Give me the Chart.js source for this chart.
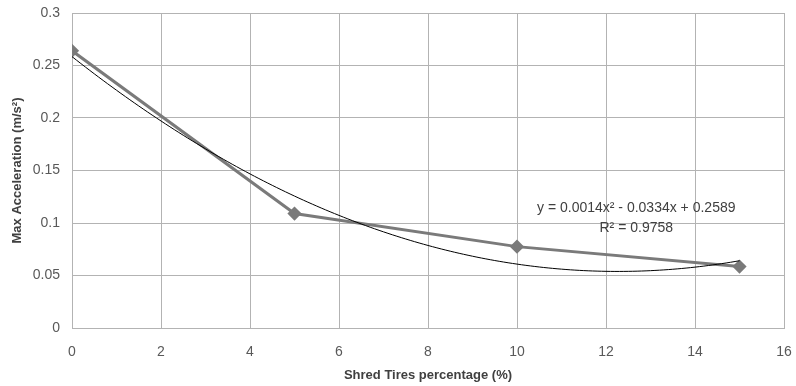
<!DOCTYPE html>
<html>
<head>
<meta charset="utf-8">
<script src="https://cdn.jsdelivr.net/npm/chart.js@4/dist/chart.umd.min.js"></script>
<style>
  html, body { margin: 0; padding: 0; background: #fff; }
  #wrap { width: 796px; height: 386px; }
</style>
</head>
<body>
<div id="wrap"><canvas id="c" width="796" height="386"></canvas></div>
<script>
// Shred tire content vs. peak acceleration
const shredPercent = [0, 5, 10, 15];
const maxAccel = [0.264, 0.109, 0.0775, 0.0585];

// Order-2 polynomial trend is fitted to the series; its range and caption
const trendRange = [0, 15];
const trendLabel = ['y = 0.0014x² - 0.0334x + 0.2589', 'R² = 0.9758'];

const xTicks = [0, 2, 4, 6, 8, 10, 12, 14, 16];
const yTicks = [0, 0.05, 0.1, 0.15, 0.2, 0.25, 0.3];

const FONT = "'Liberation Sans', Arial, sans-serif";

// Least-squares quadratic fit: returns [c0, c1, c2]
function quadFit(xs, ys) {
  const S = k => xs.reduce((a, x) => a + Math.pow(x, k), 0);
  const T = k => xs.reduce((a, x, i) => a + Math.pow(x, k) * ys[i], 0);
  const A = [[S(0), S(1), S(2)], [S(1), S(2), S(3)], [S(2), S(3), S(4)]];
  const b = [T(0), T(1), T(2)];
  const det = m => m[0][0] * (m[1][1] * m[2][2] - m[1][2] * m[2][1])
                 - m[0][1] * (m[1][0] * m[2][2] - m[1][2] * m[2][0])
                 + m[0][2] * (m[1][0] * m[2][1] - m[1][1] * m[2][0]);
  const D = det(A);
  return [0, 1, 2].map(c => det(A.map((row, r) => row.map((v, j) => j === c ? b[r] : v))) / D);
}
const coeffs = quadFit(shredPercent, maxAccel);

const trendPlugin = {
  id: 'trend',
  afterDatasetsDraw(chart) {
    const { ctx, scales: { x, y }, chartArea } = chart;
    const f = v => coeffs[0] + coeffs[1] * v + coeffs[2] * v * v;
    ctx.save();
    ctx.beginPath();
    ctx.rect(chartArea.left, chartArea.top, chartArea.right - chartArea.left, chartArea.bottom - chartArea.top);
    ctx.clip();
    ctx.strokeStyle = '#000';
    ctx.lineWidth = 1;
    ctx.beginPath();
    const steps = 150;
    for (let i = 0; i <= steps; i++) {
      const xv = trendRange[0] + (trendRange[1] - trendRange[0]) * i / steps;
      const px = x.getPixelForValue(xv), py = y.getPixelForValue(f(xv));
      if (i === 0) ctx.moveTo(px, py); else ctx.lineTo(px, py);
    }
    ctx.stroke();
    ctx.restore();

    // equation caption
    ctx.save();
    ctx.fillStyle = '#404040';
    ctx.font = '14px ' + FONT;
    ctx.textAlign = 'center';
    ctx.textBaseline = 'middle';
    ctx.fillText(trendLabel[0], x.getPixelForValue(12.68), y.getPixelForValue(0.1138));
    ctx.fillText(trendLabel[1], x.getPixelForValue(12.68), y.getPixelForValue(0.0950));
    ctx.restore();
  }
};

new Chart(document.getElementById('c'), {
  type: 'scatter',
  data: {
    datasets: [{
      data: shredPercent.map((v, i) => ({ x: v, y: maxAccel[i] })),
      showLine: true,
      borderColor: '#7a7a7a',
      backgroundColor: '#7a7a7a',
      borderWidth: 3,
      pointStyle: 'rectRot',
      pointRadius: 5,
      pointHoverRadius: 5,
      tension: 0
    }]
  },
  options: {
    responsive: false,
    animation: false,
    devicePixelRatio: 1,
    layout: { padding: { top: 13, right: 12, left: 0, bottom: 0 } },
    plugins: { legend: { display: false }, tooltip: { enabled: false } },
    scales: {
      x: {
        type: 'linear',
        min: 0, max: 16,
        afterBuildTicks: s => { s.ticks = xTicks.map(v => ({ value: v })); },
        afterFit: s => { s.height = 58; s.paddingLeft = 0; s.paddingRight = 0; },
        grid: { color: '#b3b3b3', lineWidth: 1, drawTicks: false },
        border: { color: '#b3b3b3' },
        ticks: { color: '#595959', font: { family: FONT, size: 14 }, padding: 16, maxRotation: 0 },
        title: { display: true, text: 'Shred Tires percentage (%)', color: '#404040', font: { family: FONT, size: 13, weight: 'bold' }, padding: { top: 0, bottom: 3 } }
      },
      y: {
        type: 'linear',
        min: 0, max: 0.3,
        afterBuildTicks: s => { s.ticks = yTicks.map(v => ({ value: v })); },
        afterFit: s => { s.width = 72; s.paddingTop = 0; s.paddingBottom = 0; },
        grid: { color: '#b3b3b3', lineWidth: 1, drawTicks: false },
        border: { color: '#b3b3b3' },
        ticks: { color: '#595959', font: { family: FONT, size: 14 }, padding: 12, callback: v => String(+v.toFixed(2)) },
        title: { display: true, text: 'Max Acceleration (m/s²)', color: '#404040', font: { family: FONT, size: 13, weight: 'bold' }, padding: { top: 10, bottom: 0 } }
      }
    }
  },
  plugins: [trendPlugin]
});
</script>
</body>
</html>
